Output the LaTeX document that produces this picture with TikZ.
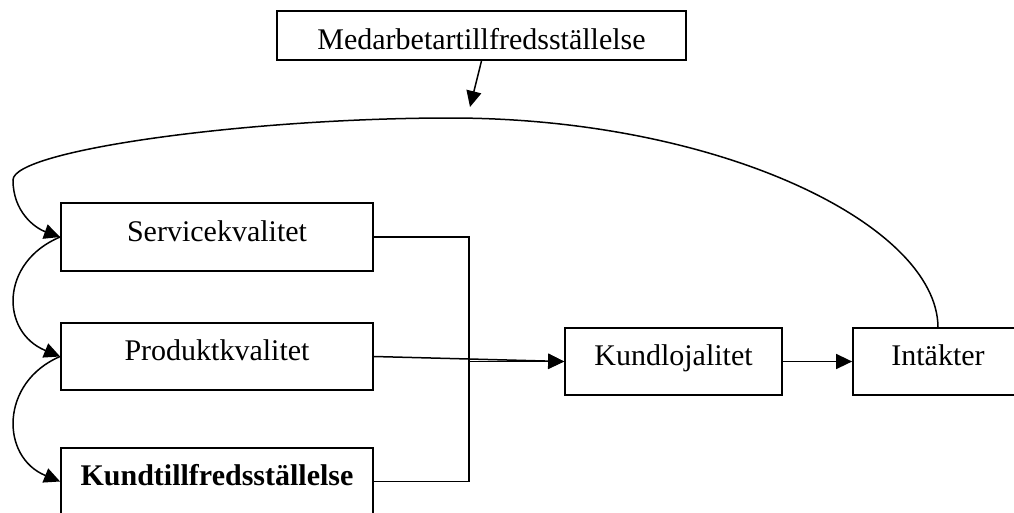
\documentclass[tikz,border=0pt]{standalone}
\usepackage{fontspec}
\setmainfont{Liberation Serif}
\usetikzlibrary{arrows.meta}
\tikzset{
  box/.style={draw,rectangle,line width=0.7pt,inner sep=0pt,text height=8pt,text depth=4.8pt,font=\fontsize{12}{14}\selectfont},
  link/.style={line width=0.6pt},
}

\begin{document}
\begin{tikzpicture}[x=0.4pt,y=-0.4pt,>={Triangle[length=6.4pt,width=6pt]},line cap=butt]
  \useasboundingbox (0,0) rectangle (1014,513);

  % boxes
  \node[box,minimum width=163.6pt,minimum height=19.6pt,text height=11pt,text depth=0.2pt] (med) at (481.5,35.5) {Medarbetartillfredsställelse};
  \node[box,minimum width=124.8pt,minimum height=27.2pt] (svc) at (217,237) {Servicekvalitet};
  \node[box,minimum width=124.8pt,minimum height=26.8pt] (pkv) at (217,356.5) {Produktkvalitet};
  \node[box,minimum width=124.8pt,minimum height=26.8pt,font=\fontsize{12}{14}\selectfont\bfseries] (kts) at (217,481.5) {Kundtillfredsställelse};
  \node[box,minimum width=86.8pt,minimum height=26.8pt] (klo) at (673.5,361.5) {Kundlojalitet};
  \node[box,minimum width=68pt,minimum height=26.8pt] (int) at (938,361.5) {Intäkter};

  % arrow from the top box
  \coordinate (medtip) at (470,107);
  \draw[link,->] (med.south) -- (medtip);

  % long feedback curve
  \coordinate (crest) at (450,118);
  \coordinate (bend) at (13,180);
  \draw[link,->] (int.north) .. controls (937,225) and (720,118) .. (crest)
    .. controls (250,118) and (13,150) .. (bend)
    .. controls (13,212) and (35,228) .. (svc.west);

  % left arcs
  \draw[link,->] (svc.west) .. controls (0,262) and (0,332) .. (pkv.west);
  \draw[link,->] (pkv.west) .. controls (0,382) and (0,457) .. (kts.west);

  % bracket to Kundlojalitet
  \coordinate (jn) at (469,361.5);
  \draw[link] (svc.east) -| (jn) |- (kts.east);
  \draw[link,->] (jn) -- (klo.west);
  \draw[link,->] (pkv.east) -- (klo.west);
  \draw[link,->] (klo) -- (int);
\end{tikzpicture}
\end{document}
